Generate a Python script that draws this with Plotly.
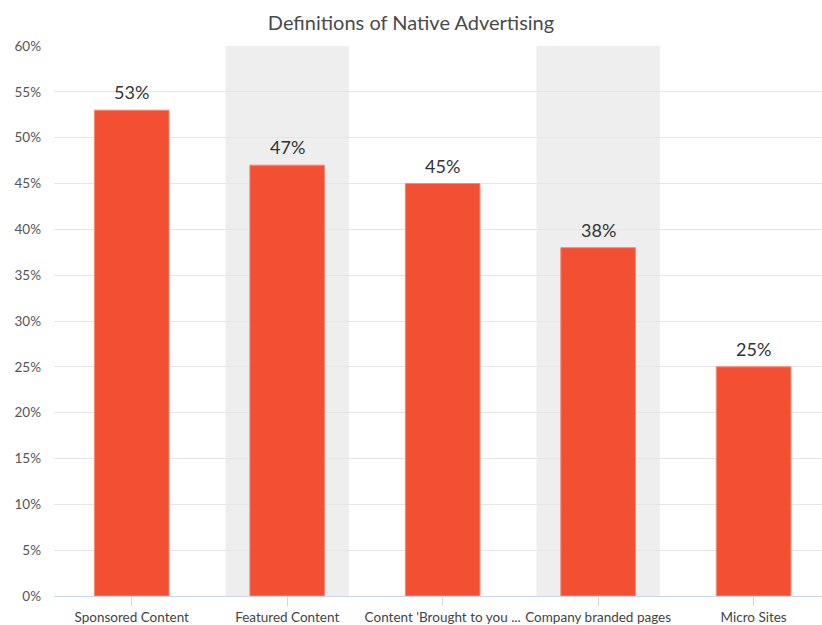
import plotly.graph_objects as go

categories = ["Sponsored Content", "Featured Content", "Content 'Brought to you ...",
              "Company branded pages", "Micro Sites"]
values = [53, 47, 45, 38, 25]
y_ticks = [0, 5, 10, 15, 20, 25, 30, 35, 40, 45, 50, 55, 60]
y_tick_labels = [f"{v}%" for v in y_ticks]
banded = [1, 3]

FONT = "Lato, 'Open Sans', sans-serif"

fig = go.Figure()
fig.add_trace(go.Bar(
    x=list(range(len(categories))),
    y=values,
    width=0.48,
    marker=dict(color="#F24F33", line=dict(color="#F58A75", width=1)),
    hoverinfo="skip",
))

for i, v in enumerate(values):
    fig.add_annotation(x=i, y=v, text=f"{v}%", showarrow=False, xref="x", yref="y",
                       yanchor="bottom", yshift=5,
                       font=dict(family=FONT, size=18, color="#333333"))

for b in banded:
    fig.add_shape(type="rect", xref="x", yref="paper", x0=b - 0.397, x1=b + 0.397,
                  y0=0, y1=1, fillcolor="#EEEEEE", line=dict(width=0), layer="below")

fig.update_layout(
    width=822, height=625,
    margin=dict(l=54, r=0, t=46, b=27),
    paper_bgcolor="white", plot_bgcolor="white",
    showlegend=False,
    title=dict(text="Definitions of Native Advertising", x=0.5, xanchor="center",
               y=1 - 23 / 625, yanchor="middle",
               font=dict(family=FONT, size=20, color="#4A4A4A")),
    font=dict(family=FONT),
    xaxis=dict(
        range=[-0.5, 4.44],
        tickmode="array", tickvals=list(range(len(categories))), ticktext=categories,
        tickson="boundaries", ticks="outside", ticklen=9, tickcolor="#CCD6EB",
        showline=True, linecolor="#CCD6EB", linewidth=1,
        showgrid=False, zeroline=False,
        tickfont=dict(family=FONT, size=13.5, color="#444444"),
        fixedrange=True,
    ),
    yaxis=dict(
        range=[0, 60],
        tickmode="array", tickvals=y_ticks, ticktext=y_tick_labels,
        showgrid=True, gridcolor="#E6E6E6", gridwidth=1,
        zeroline=False, showline=False, ticks="",
        ticklabelstandoff=12,
        tickfont=dict(family=FONT, size=13.5, color="#555555"),
        fixedrange=True,
    ),
)

fig.write_html("out.html", config={"displayModeBar": False},
               post_script="document.body.style.margin='0';document.body.style.overflow='hidden';")
